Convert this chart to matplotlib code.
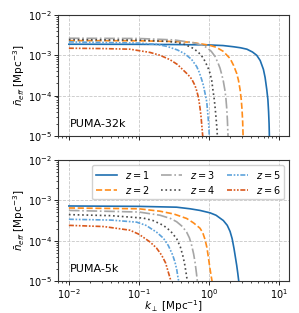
import matplotlib.pyplot as plt

# PUMA-32k (top panel): k_perp [Mpc^-1] and n_eff [Mpc^-3] per redshift
k32_z1 = [0.01, 0.1, 0.316, 1.0, 1.585, 2.239, 2.818, 3.467, 4.169, 4.786, 5.370, 5.970,
          6.310, 6.668, 6.918, 7.079, 7.194, 7.261, 7.345]
n32_z1 = [1.875e-3, 1.862e-3, 1.841e-3, 1.80e-3, 1.738e-3, 1.622e-3, 1.531e-3, 1.413e-3, 1.202e-3,
          1.0e-3, 7.41e-4, 4.47e-4, 2.82e-4, 1.41e-4, 7.94e-5, 3.98e-5, 2.0e-5, 1.0e-5, 1e-6]
k32_z2 = [0.01, 0.1, 0.316, 0.537, 1.0, 1.259, 1.585, 1.995, 2.239, 2.483, 2.630, 2.773,
          2.884, 2.958, 3.020, 3.062, 3.090]
n32_z2 = [2.30e-3, 2.28e-3, 2.19e-3, 2.11e-3, 1.778e-3, 1.585e-3, 1.259e-3, 8.32e-4, 5.62e-4,
          3.55e-4, 2.40e-4, 1.41e-4, 7.94e-5, 4.47e-5, 2.24e-5, 1.0e-5, 1e-6]
k32_z3 = [0.01, 0.1, 0.316, 0.597, 0.794, 0.927, 1.072, 1.219, 1.349, 1.435, 1.531, 1.603,
          1.679, 1.738, 1.786, 1.828, 1.866, 1.884]
n32_z3 = [2.64e-3, 2.60e-3, 2.40e-3, 2.04e-3, 1.778e-3, 1.549e-3, 1.259e-3, 9.33e-4, 6.31e-4,
          4.79e-4, 3.16e-4, 2.24e-4, 1.41e-4, 8.91e-5, 5.01e-5, 2.51e-5, 1.0e-5, 1e-6]
k32_z4 = [0.01, 0.1, 0.251, 0.345, 0.447, 0.597, 0.708, 0.83, 0.927, 0.977, 1.035, 1.091,
          1.135, 1.189, 1.230, 1.259, 1.294, 1.315, 1.327]
n32_z4 = [2.44e-3, 2.37e-3, 2.21e-3, 2.09e-3, 1.862e-3, 1.479e-3, 1.175e-3, 8.51e-4, 5.75e-4,
          4.68e-4, 3.55e-4, 2.40e-4, 1.41e-4, 7.94e-5, 4.47e-5, 2.82e-5, 1.58e-5, 1.0e-5, 1e-6]
k32_z5 = [0.01, 0.1, 0.178, 0.251, 0.355, 0.447, 0.562, 0.667, 0.724, 0.785, 0.832, 0.891,
          0.927, 0.955, 0.991, 1.009, 1.019]
n32_z5 = [2.14e-3, 2.0e-3, 1.862e-3, 1.66e-3, 1.349e-3, 1.096e-3, 7.94e-4, 5.25e-4, 3.80e-4,
          2.51e-4, 1.78e-4, 1.0e-4, 7.08e-5, 3.98e-5, 1.86e-5, 1.0e-5, 1e-6]
k32_z6 = [0.01, 0.0316, 0.0741, 0.1435, 0.1995, 0.2773, 0.3548, 0.4295, 0.5012, 0.5662,
          0.631, 0.6668, 0.7079, 0.7430, 0.7674, 0.7852, 0.8128, 0.8204]
n32_z6 = [1.493e-3, 1.462e-3, 1.413e-3, 1.175e-3, 1.0e-3, 7.76e-4, 5.89e-4, 4.27e-4, 3.31e-4,
          2.57e-4, 1.778e-4, 1.318e-4, 8.91e-5, 5.01e-5, 3.16e-5, 2.0e-5, 1.0e-5, 1e-6]

# PUMA-5k (bottom panel)
k5_z1 = [0.01, 0.1, 0.345, 0.536, 0.743, 1.033, 1.259, 1.600, 1.820, 1.995, 2.138, 2.275,
         2.399, 2.483, 2.570, 2.655, 2.679]
n5_z1 = [7.24e-4, 7.08e-4, 6.76e-4, 6.17e-4, 5.62e-4, 4.90e-4, 4.27e-4, 3.16e-4, 2.40e-4,
         1.70e-4, 1.12e-4, 6.31e-5, 3.55e-5, 2.45e-5, 1.58e-5, 1.0e-5, 1e-6]
k5_z2 = [0.01, 0.1, 0.2, 0.316, 0.48, 0.603, 0.743, 0.813, 0.877, 0.933, 0.977, 1.023,
         1.069, 1.104, 1.114]
n5_z2 = [6.46e-4, 6.17e-4, 5.37e-4, 4.57e-4, 3.55e-4, 2.75e-4, 2.04e-4, 1.585e-4, 1.07e-4,
         6.76e-5, 3.98e-5, 2.24e-5, 1.38e-5, 1.0e-5, 1e-6]
k5_z3 = [0.01, 0.1, 0.2, 0.282, 0.345, 0.417, 0.48, 0.525, 0.566, 0.603, 0.631, 0.661,
         0.681, 0.687]
n5_z3 = [5.62e-4, 5.13e-4, 4.27e-4, 3.55e-4, 2.95e-4, 2.24e-4, 1.62e-4, 1.175e-4, 7.59e-5,
         4.68e-5, 2.95e-5, 1.58e-5, 1.0e-5, 1e-6]
k5_z4 = [0.01, 0.0398, 0.1153, 0.1585, 0.2228, 0.2818, 0.345, 0.389, 0.421, 0.447, 0.469,
         0.490, 0.4955]
n5_z4 = [4.42e-4, 4.17e-4, 3.63e-4, 3.16e-4, 2.40e-4, 1.74e-4, 1.12e-4, 7.08e-5, 4.37e-5,
         2.75e-5, 1.66e-5, 1.0e-5, 1e-6]
k5_z5 = [0.01, 0.0398, 0.0927, 0.1259, 0.179, 0.2239, 0.2624, 0.302, 0.3266, 0.3467, 0.3565,
         0.3690, 0.3724]
n5_z5 = [3.39e-4, 3.24e-4, 2.88e-4, 2.40e-4, 1.62e-4, 1.148e-4, 7.59e-5, 4.47e-5, 2.95e-5,
         1.905e-5, 1.38e-5, 1.0e-5, 1e-6]
k5_z6 = [0.01, 0.0316, 0.0743, 0.1, 0.1435, 0.1778, 0.2109, 0.2399, 0.2624, 0.2864, 0.2891]
n5_z6 = [2.40e-4, 2.24e-4, 1.82e-4, 1.445e-4, 9.33e-5, 6.61e-5, 4.37e-5, 2.82e-5, 1.66e-5,
         1.0e-5, 1e-6]

redshifts = [1, 2, 3, 4, 5, 6]
colors = ['#1f6fb0', '#ff8c1a', '#a6a6a6', '#4a4a4a', '#5ea3dc', '#d9581c']
styles = ['-', '--', '-.', ':', (0, (3, 1, 1, 1, 1, 1)), (0, (3, 1, 1, 1, 1, 1))]

panels = [
    ('PUMA-32k', [(k32_z1, n32_z1), (k32_z2, n32_z2), (k32_z3, n32_z3),
                  (k32_z4, n32_z4), (k32_z5, n32_z5), (k32_z6, n32_z6)]),
    ('PUMA-5k', [(k5_z1, n5_z1), (k5_z2, n5_z2), (k5_z3, n5_z3),
                 (k5_z4, n5_z4), (k5_z5, n5_z5), (k5_z6, n5_z6)]),
]

fig = plt.figure(figsize=(2.99, 3.13), dpi=100)
ax_top = fig.add_axes([0.194, 0.5655, 0.773, 0.387])
ax_bot = fig.add_axes([0.194, 0.102, 0.773, 0.387], sharex=ax_top)

for ax, (name, curves) in zip([ax_top, ax_bot], panels):
    for z, (k, n), c, ls in zip(redshifts, curves, colors, styles):
        ax.plot(k, n, color=c, linestyle=ls, linewidth=1.2, label=f'$z={z}$')
    ax.set_xscale('log')
    ax.set_yscale('log')
    ax.set_ylim(1e-5, 1e-2)
    ax.set_xlim(0.007, 13.9)
    ax.grid(True, which='major', linestyle='--', color='#c8c8c8', linewidth=0.6)
    ax.tick_params(labelsize=7, length=3, width=0.6, pad=1.5)
    ax.tick_params(which='minor', length=1.5, width=0.5)
    for sp in ax.spines.values():
        sp.set_linewidth(0.8)
        sp.set_color('#333333')
    ax.set_ylabel(r'$\bar{n}_{eff}$ [Mpc$^{-3}$]', fontsize=7.5)
    ax.yaxis.set_label_coords(-0.135, 0.5)
    ax.text(0.05, 0.1, name, transform=ax.transAxes, fontsize=8, va='center', ha='left')

ax_top.tick_params(labelbottom=False)
ax_bot.set_xlabel(r'$k_\perp$ [Mpc$^{-1}$]', fontsize=7.5)
ax_bot.xaxis.set_label_coords(0.5, -0.14)
ax_bot.legend(loc='upper right', ncol=3, fontsize=7, handlelength=2.2,
              columnspacing=1.2, handletextpad=0.8, labelspacing=0.3,
              borderpad=0.4, framealpha=0.9)

fig.savefig('out.png', dpi=100)
